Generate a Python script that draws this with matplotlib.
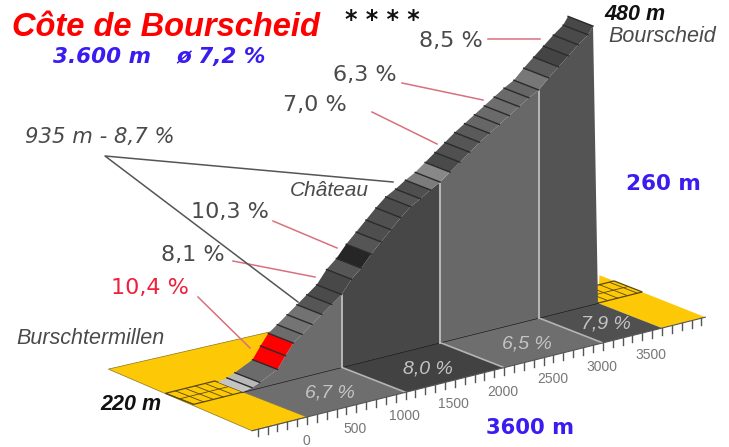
import matplotlib
matplotlib.use("Agg")
import matplotlib.pyplot as plt
from matplotlib.patches import Polygon

# profile, edges of the road strips: distance (m) and height above start (m)
strip_dist = [0, 90, 170, 350, 430, 510, 600, 700, 800, 900, 1000,
              1100, 1200, 1300, 1400, 1500, 1600, 1700, 1800, 1900, 2000,
              2100, 2200, 2300, 2400, 2500, 2600, 2700, 2800, 2900, 3000,
              3100, 3200, 3300, 3400, 3500, 3550]
strip_alt = [0, 2, 5, 13, 24, 34, 40, 47, 54, 61, 68,
             80, 88, 99, 108, 117, 126, 134, 139, 145, 150,
             157, 164, 171, 178, 184, 190, 196, 202, 208, 213,
             222, 230, 238, 246, 253, 260]
strip_col = ['#c4c4c4', '#b8b8b8', '#6b6b6b', '#ff0000', '#ff0000',
             '#6c6c6c', '#747474', '#727272', '#565656', '#4b4b4b',
             '#484848', '#565656', '#262626', '#555555', '#4e4e4e',
             '#505050', '#4c4c4c', '#555555', '#4f4f4f', '#7c7c7c',
             '#888888', '#4a4a4a', '#505050', '#555555', '#5a5a5a',
             '#666666', '#6a6a6a', '#6e6e6e', '#6a6a6a', '#666666',
             '#777777', '#5a5a5a', '#444444', '#4a4a4a', '#4a4a4a', '#484848']

# big sections on the floor / wall
sec_start = [0, 1000, 2000, 3000]
sec_end = [1000, 2000, 3000, 3600]
sec_alt_start = [0, 68, 150, 213]
sec_grade = ['6,7 %', '8,0 %', '6,5 %', '7,9 %']
wall_col = ['#6c6c6c', '#474747', '#686868', '#545454']
floor_col = ['#6e6e6e', '#424242', '#6e6e6e', '#505050']

tick_dist = list(range(-500, 4100, 100))
tick_labels = [0, 500, 1000, 1500, 2000, 2500, 3000, 3500]

YELLOW = '#fdc806'
BLUE = '#3a1cf0'
PINK = '#d9707c'
GREY_TXT = '#4a4a4a'

plt.rcParams['font.family'] = ['Liberation Sans', 'DejaVu Sans']

fig = plt.figure(figsize=(7.29, 4.47), dpi=100, facecolor='white')
ax = fig.add_axes([0, 0, 1, 1])
ax.set_xlim(0, 729)
ax.set_ylim(447, 0)
ax.axis('off')


def proj(d, t=0, alt=0):
    # d along the road, t towards viewer, alt upwards -> picture position
    x = 243 + 0.0986 * d + 64 * t
    y = 392 - 0.0247 * d + 25 * t - 1.07 * alt
    return x, y


def poly(pts, fc, ec='none', lw=0, z=1):
    ax.add_patch(Polygon(pts, closed=True, fc=fc, ec=ec, lw=lw, zorder=z))


def zebra(d0, d1, z=2):
    poly([proj(d0, 0), proj(d1, 0), proj(d1, -0.44), proj(d0, -0.44)], YELLOW, '#5a4a10', 0.9, z)
    ax.plot(*zip(proj(d0, -0.22), proj(d1, -0.22)), color='#5a4a10', lw=0.6, zorder=z)
    for dd in range(d0, d1, 100):
        ax.plot(*zip(proj(dd, 0), proj(dd, -0.44)), color='#5a4a10', lw=0.6, zorder=z)


# yellow ground
poly([proj(-470, -1.38), proj(-558, 1), proj(0, 1), proj(0, 0), proj(1116, -1.3)], YELLOW, '#8a7420', 0.5)
poly([proj(3600, 0), proj(3600, 1), proj(4040, 1), proj(4050, -0.67)], YELLOW)
zebra(-500, 0)
zebra(3600, 4050)

# floor
for i in range(4):
    poly([proj(sec_start[i], 0), proj(sec_end[i], 0), proj(sec_end[i], 1), proj(sec_start[i], 1)], floor_col[i])
    ax.plot(*zip(proj(sec_start[i], 0), proj(sec_end[i], 0)), color='#1c1c1c', lw=1.0, zorder=2)
    if i > 0:
        ax.plot(*zip(proj(sec_start[i], 0), proj(sec_start[i], 1)), color='#b4b4b4', lw=1.2, zorder=2)

# walls
for i in range(4):
    top = [proj(d, 0, a) for d, a in zip(strip_dist, strip_alt) if sec_start[i] <= d <= sec_end[i]]
    poly(top + [proj(sec_end[i], 0), proj(sec_start[i], 0)], wall_col[i], z=3)
    if i > 0:
        ax.plot(*zip(proj(sec_start[i], 0), proj(sec_start[i], 0, sec_alt_start[i])), color='#b8b8b8', lw=1.4, zorder=4)

# road strips
for i in range(len(strip_col)):
    a = proj(strip_dist[i], 0, strip_alt[i])
    b = proj(strip_dist[i + 1], 0, strip_alt[i + 1])
    c = proj(strip_dist[i + 1], -0.39, strip_alt[i + 1])
    d = proj(strip_dist[i], -0.39, strip_alt[i])
    poly([a, b, c, d], strip_col[i], z=5)
    ax.plot(*zip(b, c), color='#2a2a2a', lw=1.0, zorder=6)

# front edge, ticks and labels
ax.plot(*zip(proj(-558, 1), proj(4040, 1)), color='#555555', lw=0.8, zorder=2)
for dd in tick_dist:
    x, y = proj(dd, 1)
    ax.plot([x, x], [y, y + 7], color='#555555', lw=1.0, zorder=2)
for lab in tick_labels:
    x, y = proj(lab, 1)
    ax.text(x - 1, y + 24, str(lab), color='#777777', fontsize=10, ha='center', va='center')

# grades on floor
for i in range(4):
    x, y = proj((sec_start[i] + sec_end[i]) / 2, 0.55)
    ax.text(x + 2, y, sec_grade[i], color='#c4c4c4', fontsize=14, style='italic', ha='center', va='center', zorder=6)

# leader lines
pink_lines = [((488, 39), (540, 39)), ((402, 83), (483, 100)), ((372, 112), (437, 144)),
              ((273, 221), (337, 248)), ((233, 261), (315, 277)), ((198, 297), (250, 348))]
for p, q in pink_lines:
    ax.plot(*zip(p, q), color=PINK, lw=1.1, zorder=7)
ax.plot([298, 105, 393], [302, 156, 182], color='#555555', lw=1.1, zorder=7)

# texts
ax.text(12, 28, 'Côte de Bourscheid', color='#ff0000', fontsize=23.5, fontweight='bold', style='italic', va='center')
ax.text(345, 20, '* * * *', color='#111111', fontsize=17, fontweight='bold', family='DejaVu Sans', va='center')
ax.text(53, 57, '3.600 m', color=BLUE, fontsize=15.5, fontweight='bold', style='italic', family='DejaVu Sans', va='center')
ax.text(176, 57, 'ø 7,2 %', color=BLUE, fontsize=15.5, fontweight='bold', style='italic', family='DejaVu Sans', va='center')

for s, x, y in [('8,5 %', 419, 41), ('6,3 %', 333, 75), ('7,0 %', 283, 105), ('10,3 %', 191, 212), ('8,1 %', 161, 255)]:
    ax.text(x, y, s, color=GREY_TXT, fontsize=16, family='DejaVu Sans', va='center')
ax.text(111, 288, '10,4 %', color='#f0203a', fontsize=16, family='DejaVu Sans', va='center')

ax.text(25, 137, '935 m - 8,7 %', color=GREY_TXT, fontsize=15.2, style='italic', family='DejaVu Sans', va='center')
ax.text(290, 190, 'Château', color=GREY_TXT, fontsize=15, style='italic', va='center')
ax.text(16, 338, 'Burschtermillen', color=GREY_TXT, fontsize=15.5, style='italic', va='center')
ax.text(608, 37, 'Bourscheid', color=GREY_TXT, fontsize=15.5, style='italic', va='center')
ax.text(100, 405, '220 m', color='#111111', fontsize=15.5, fontweight='bold', style='italic', va='center')
ax.text(604, 14, '480 m', color='#111111', fontsize=15.5, fontweight='bold', style='italic', va='center')
ax.text(626, 184, '260 m', color=BLUE, fontsize=15.5, fontweight='bold', family='DejaVu Sans', va='center')
ax.text(486, 428, '3600 m', color=BLUE, fontsize=15.2, fontweight='bold', family='DejaVu Sans', va='center')

fig.savefig('out.png', dpi=100)
